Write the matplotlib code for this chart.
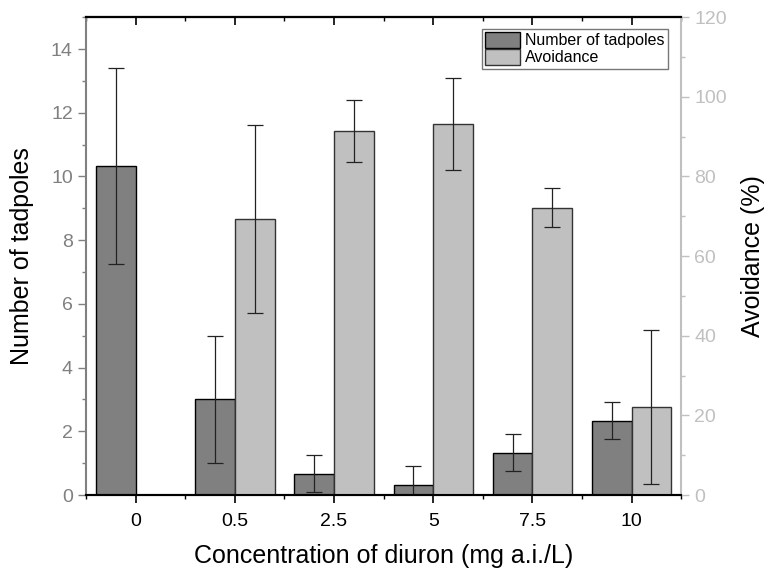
import matplotlib
matplotlib.use("Agg")
import matplotlib.pyplot as plt
import numpy as np
from matplotlib.ticker import MultipleLocator, FixedLocator

plt.rcParams['font.family'] = ['Liberation Sans', 'DejaVu Sans']

categories = ["0", "0.5", "2.5", "5", "7.5", "10"]
tadpoles = [10.33, 3.0, 0.67, 0.33, 1.33, 2.33]
tadpoles_err = [3.07, 2.0, 0.58, 0.58, 0.58, 0.58]
avoidance = [0.0, 69.3, 91.4, 93.2, 72.2, 22.2]
avoidance_err = [0.0, 23.6, 7.7, 11.6, 4.8, 19.3]

dark = "#808080"
light = "#c0c0c0"

fig = plt.figure(figsize=(7.75, 5.73), dpi=100)
ax = fig.add_axes([0.111, 0.136, 0.768, 0.834])
ax2 = ax.twinx()

x = np.arange(len(categories))
w = 0.4
b1 = ax.bar(x - w/2, tadpoles, w, color=dark, edgecolor="black", linewidth=1.0,
            label="Number of tadpoles", zorder=2)
ax.errorbar(x - w/2, tadpoles, yerr=tadpoles_err, fmt="none", ecolor="#222222",
            elinewidth=0.9, capsize=6, capthick=0.9, zorder=3)

av = np.array(avoidance)
av_err = np.array(avoidance_err)
mask = av > 0
b2 = ax2.bar(x[mask] + w/2, av[mask], w, color=light, edgecolor="#333333",
             linewidth=1.0, label="Avoidance", zorder=2)
ax2.errorbar(x[mask] + w/2, av[mask], yerr=av_err[mask],
             fmt="none", ecolor="#222222", elinewidth=0.9, capsize=6, capthick=0.9, zorder=3)

ax.set_xlim(-0.5, 5.5)
ax.set_ylim(0, 15)
ax2.set_ylim(0, 120)

ax.set_xticks(x)
ax.set_xticklabels(categories)
ax.xaxis.set_minor_locator(FixedLocator(np.arange(-0.5, 5.6, 1.0)))
ax.yaxis.set_major_locator(MultipleLocator(2))
ax.yaxis.set_minor_locator(MultipleLocator(1))
ax2.yaxis.set_major_locator(MultipleLocator(20))
ax2.yaxis.set_minor_locator(MultipleLocator(10))

ax.tick_params(axis='x', which='major', direction='out', length=6, width=1.2,
               labelsize=14, colors='black', pad=7, top=False)
ax.tick_params(axis='x', which='minor', direction='out', length=3, width=1.0, top=False)
ax.tick_params(axis='y', which='major', direction='out', length=6, width=1.0,
               labelsize=14, colors=dark, labelcolor=dark)
ax.tick_params(axis='y', which='minor', direction='out', length=3, width=1.0, colors=dark)
ax2.tick_params(axis='y', which='major', direction='out', length=6, width=1.0,
                labelsize=14, colors=light, labelcolor=light)
ax2.tick_params(axis='y', which='minor', direction='out', length=3, width=1.0, colors=light)

# Top axis with inward ticks
sec = ax.secondary_xaxis('top')
sec.set_xticks(x)
sec.xaxis.set_minor_locator(FixedLocator(np.arange(-0.5, 5.6, 1.0)))
sec.tick_params(axis='x', which='major', direction='in', length=6, width=1.2, labeltop=False)
sec.tick_params(axis='x', which='minor', direction='in', length=3, width=1.0)
sec.spines['top'].set_linewidth(1.5)
sec.spines['top'].set_color('black')

for a in (ax, ax2):
    a.spines['top'].set_color('black')
    a.spines['bottom'].set_color('black')
    a.spines['top'].set_linewidth(1.5)
    a.spines['bottom'].set_linewidth(1.5)
ax.spines['left'].set_color(dark)
ax.spines['left'].set_linewidth(1.5)
ax2.spines['left'].set_visible(False)
ax.spines['right'].set_visible(False)
ax2.spines['right'].set_color(light)
ax2.spines['right'].set_linewidth(1.5)

ax.set_xlabel("Concentration of diuron (mg a.i./L)", fontsize=18, labelpad=10)
ax.set_ylabel("Number of tadpoles", fontsize=18, labelpad=12)
ax2.set_ylabel("Avoidance (%)", fontsize=18, labelpad=10)

leg = ax2.legend([b1, b2], ["Number of tadpoles", "Avoidance"], loc="upper right",
                 bbox_to_anchor=(0.985, 0.985), fontsize=11.5, frameon=True, fancybox=False,
                 edgecolor="#555555", borderpad=0.2, handlelength=2.2, handleheight=1.1,
                 handletextpad=0.3, labelspacing=0.05, borderaxespad=0.3)
leg.get_frame().set_linewidth(1.0)

fig.savefig("out.png", dpi=100)
